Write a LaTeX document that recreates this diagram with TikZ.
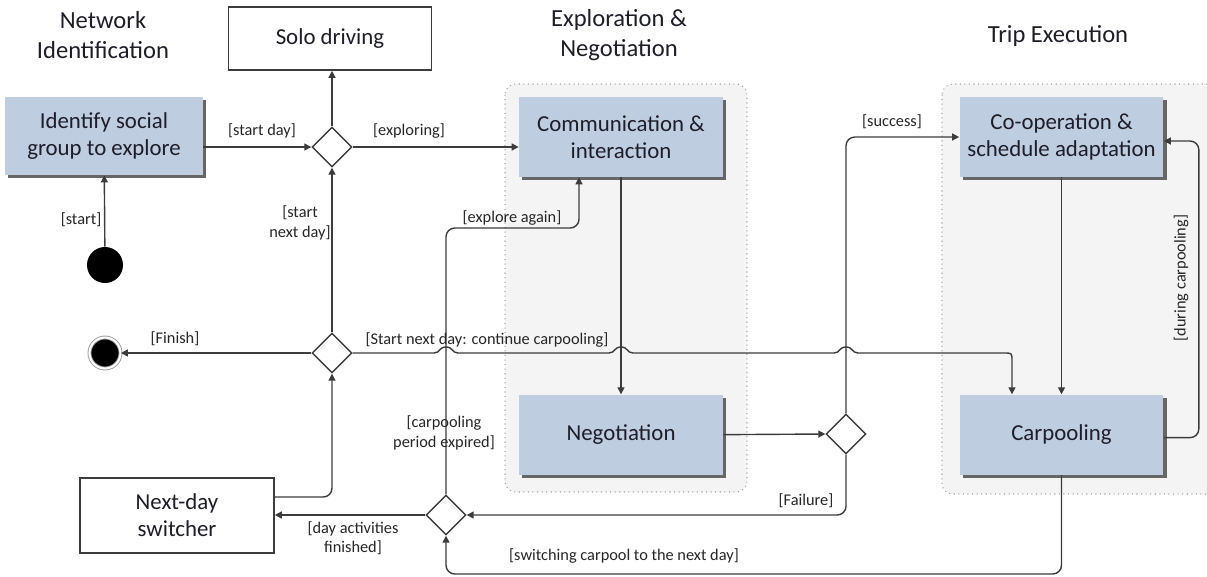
\documentclass[tikz,border=0pt]{standalone}
\usepackage{fontspec}
\setmainfont{Carlito}
\usepackage{xcolor}
\usepackage{tikz}
\usetikzlibrary{shapes.geometric, arrows.meta, positioning, calc, shadows}

\definecolor{actblue}{RGB}{191,205,225}
\definecolor{linegray}{RGB}{60,60,60}
\definecolor{lanegray}{RGB}{244,244,244}
\definecolor{txtdark}{RGB}{30,30,40}

\begin{document}
\begin{tikzpicture}[
    x=0.02cm, y=-0.02cm,
    action/.style={rectangle, fill=actblue, minimum width=4.08cm, minimum height=1.6cm, align=center, text=txtdark, font=\fontsize{13}{15.5}\selectfont, drop shadow={shadow xshift=1.8pt, shadow yshift=-1.8pt, fill=black!60, opacity=1}},
    plainbox/.style={rectangle, draw=linegray, line width=0.9pt, fill=white, align=center, text=txtdark, font=\fontsize{13}{15.5}\selectfont},
    decision/.style={diamond, draw=linegray, line width=0.8pt, fill=white, minimum width=0.8cm, minimum height=0.8cm, inner sep=0pt, aspect=1},
    lbl/.style={font=\fontsize{9.3}{11}\selectfont, text=black!85, inner sep=1pt, align=center},
    title/.style={font=\fontsize{14}{17}\selectfont, text=txtdark, align=center},
    lane/.style={draw=gray!70, dotted, fill=lanegray, rounded corners=6pt, line width=0.6pt},
    arrow/.style={-{Triangle[length=4pt, width=4pt]}, draw=linegray, line width=0.8pt},
]
    \useasboundingbox (0,0) rectangle (1207,576);

    % swimlane backgrounds
    \draw[lane] (505,84) rectangle (747,492);
    \draw[lane] (942,84) rectangle (1216,494);

    \node[title] (tnet) at (103,35) {Network\\Identification};
    \node[title] (texp) at (619,35) {Exploration \&\\Negotiation};
    \node[title] (ttrip) at (1058,36) {Trip Execution};

    \node[action, minimum width=3.96cm, minimum height=1.56cm] (ident) at (104,136) {Identify social\\group to explore};
    \node[plainbox, minimum width=4.06cm, minimum height=1.26cm] (solo) at (330,38.5) {Solo driving};
    \node[action] (comm) at (621,137) {Communication \&\\interaction};
    \node[action, below=4.34cm of comm] (neg) {Negotiation};
    \node[action] (coop) at (1061.5,137) {Co-operation \&\\schedule adaptation};
    \node[action, below=4.34cm of coop] (carp) {Carpooling};
    \node[plainbox, minimum width=3.88cm, minimum height=1.5cm] (nds) at (177,515.5) {Next-day\\switcher};

    \node[circle, fill=black, minimum size=0.72cm, inner sep=0pt] (start) at (105,265) {};
    \node[circle, fill=black, minimum size=0.62cm, inner sep=0pt, draw=gray!80, line width=0.5pt, double=white, double distance=1.2pt] (endc) at (105,353) {};

    \node[decision] (d1) at (332,147) {};
    \node[decision] (d2) at (332,353) {};
    \node[decision] (d3) at (846,434) {};
    \node[decision] (d4) at (446,515) {};

    \coordinate (ea) at (579,228);
    \coordinate (cin) at (1012,353);

    \draw[arrow] (start) -- (ident);
    \draw[arrow] (ident.east |- d1) -- (d1.west);
    \draw[arrow] (d1.north) -- (d1.north |- solo.south);
    \draw[arrow] (d1.east) -- (d1.east -| comm.west);
    \draw[arrow] (d2.north) -- (d1.south);
    \draw[arrow] (d2.west) -- (endc);
    % line hops over the vertical connectors
    \draw[arrow] (d2.east) -- (434,353) .. controls (440,353) and (439,347) .. (446,347) .. controls (453,347) and (452,353) .. (458,353)
        -- (609,353) .. controls (615,353) and (614,347) .. (621,347) .. controls (628,347) and (627,353) .. (633,353)
        -- (834,353) .. controls (840,353) and (839,347) .. (846,347) .. controls (853,347) and (852,353) .. (858,353)
        -- ($(cin)+(-8,0)$) .. controls (cin) .. ($(cin)+(0,8)$) -- (cin |- carp.north);
    \draw[arrow] (comm) -- (neg);
    \draw[arrow] (neg.east) -- (d3.west);
    \draw[arrow, rounded corners=5pt] (d3.north) |- (coop.west);
    \draw[arrow, rounded corners=5pt] (d3.south) |- (d4.east);
    \draw[arrow] (d4.west) -- (d4.west -| nds.east);
    \draw[arrow, rounded corners=5pt] ($(nds.east)+(0,-18.5)$) -| (d2.south);
    \draw[arrow, rounded corners=5pt] (d4.north) |- (ea) -- (ea |- comm.south);
    \draw[arrow] (coop) -- (carp);
    \draw[arrow, rounded corners=5pt] ($(carp.east)+(0,3)$) -- ++(35,0) |- ($(coop.east)+(0,4)$);
    \draw[arrow, rounded corners=5pt] (carp.south) -- ++(0,99) -| (d4.south);

    % guard labels
    \node[lbl] (lstart) at (81,220) {[start]};
    \node[lbl] (lday) at (262,131) {[start day]};
    \node[lbl] (lexpl) at (409,131) {[exploring]};
    \node[lbl] (lnext) at (300,223) {[start\\next day]};
    \node[lbl] (lsucc) at (892,122) {[success]};
    \node[lbl] (lagain) at (512,218) {[explore again]};
    \node[lbl] (lfin) at (175,339) {[Finish]};
    \node[lbl] (lcont) at (487,340) {[Start next day: continue carpooling]};
    \node[lbl] (lexp) at (444,433) {[carpooling\\period expired]};
    \node[lbl] (lfail) at (806,501) {[Failure]};
    \node[lbl] (ldone) at (353,538) {[day activities\\finished]};
    \node[lbl] (lswitch) at (624,556) {[switching carpool to the next day]};
    \node[lbl, rotate=90] (lduring) at (1181,278) {[during carpooling]};
\end{tikzpicture}
\end{document}
